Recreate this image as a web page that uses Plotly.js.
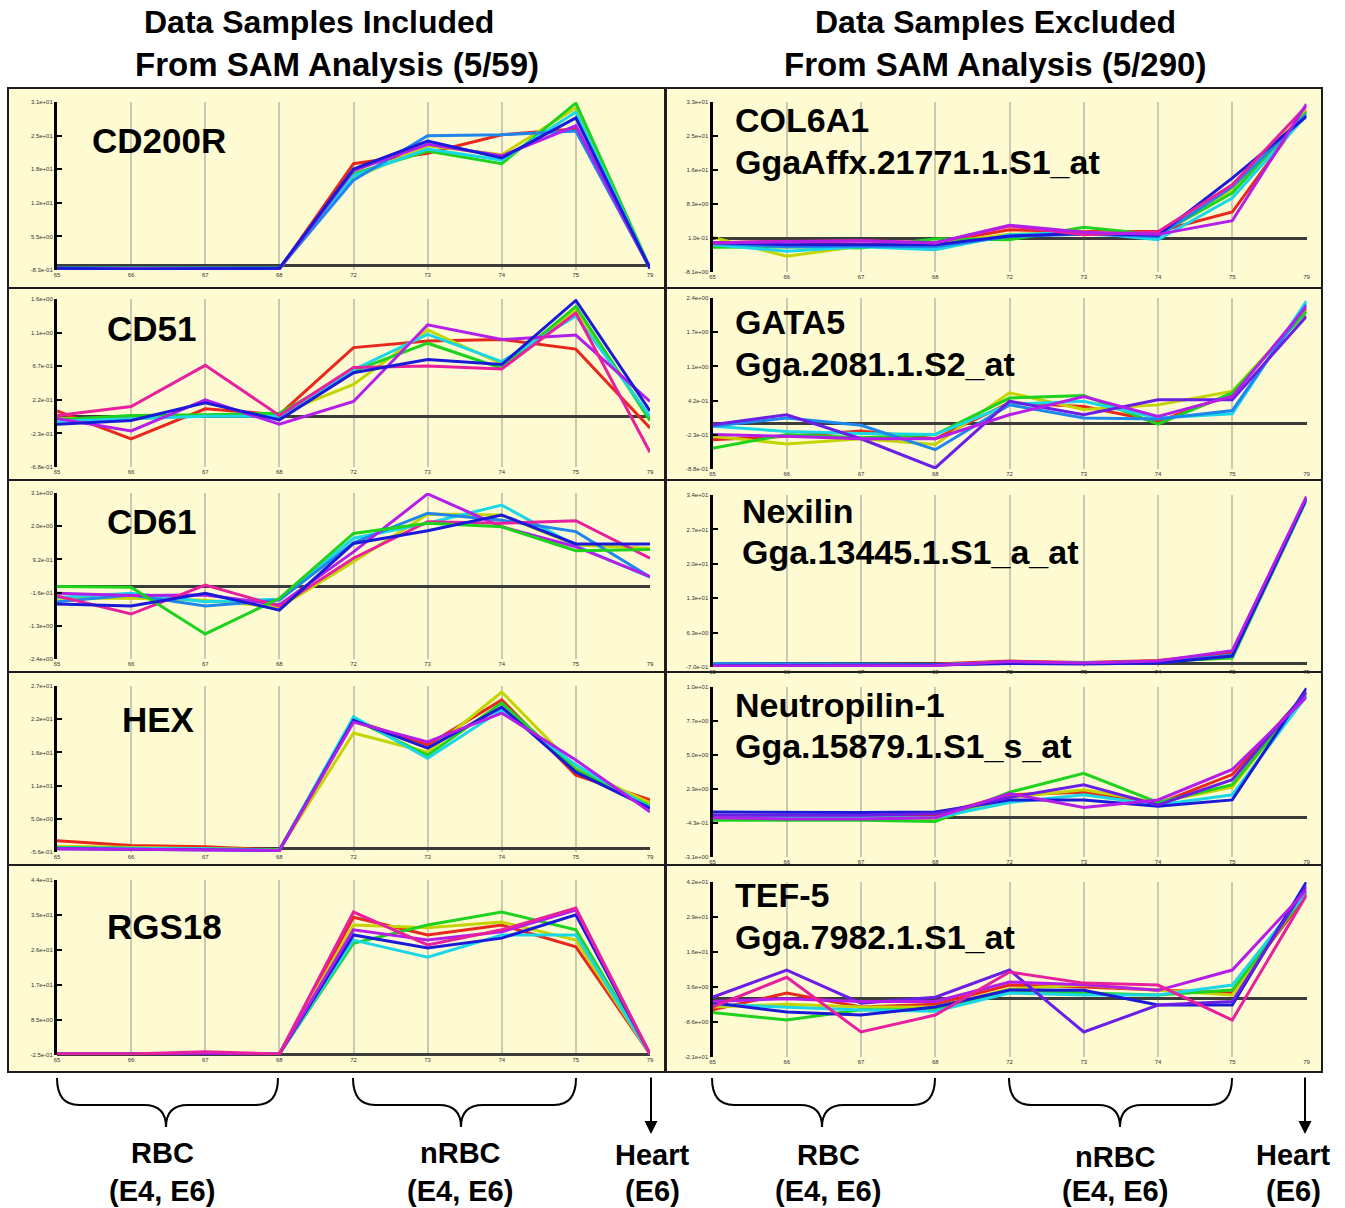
<!DOCTYPE html>
<html>
<head>
<meta charset="utf-8">
<script src="https://cdn.plot.ly/plotly-3.0.1.min.js"></script>
<style>html,body{margin:0;padding:0;background:#fff;}#chart{width:1345px;height:1208px;}</style>
</head>
<body>
<div id="chart"></div>
<script>
// ---------- DATA ----------
const timepoints = ['65','66','67','68','72','73','74','75','79'];

// Left column: included samples
const cd200r = {
  red:        [-0.6,-0.6,-0.7,-0.7,19.3,21.3,24.8,25.9,-0.5],
  yellowgreen:[-0.6,-0.6,-0.6,-0.6,16.6,22.7,21.0,29.9,-0.5],
  green:      [-0.5,-0.5,-0.5,-0.5,17.4,21.7,19.3,30.8,-0.4],
  cyan:       [-0.5,-0.5,-0.5,-0.5,17.0,22.1,20.0,29.1,-0.5],
  dodgerblue: [-0.5,-0.5,-0.5,-0.5,16.2,24.6,24.8,25.5,-0.5],
  purple:     [-0.6,-0.6,-0.6,-0.6,18.0,23.0,20.8,26.5,-0.5],
  blue:       [-0.5,-0.7,-0.6,-0.5,18.3,23.6,20.4,28.0,-0.5]
};
const cd200rRange = [-0.83, 31];
const cd200rTicks = ['-8.3e-01','5.5e+00','1.2e+01','1.8e+01','2.5e+01','3.1e+01'];

const cd51 = {
  red:        [0.08,-0.30,0.11,0.03,0.94,1.03,1.05,0.92,-0.15],
  yellowgreen:[-0.02,-0.03,0.02,0.04,0.44,1.18,0.72,1.45,0.00],
  green:      [-0.04,0.02,0.03,0.05,0.62,1.00,0.66,1.50,-0.05],
  cyan:       [-0.06,-0.02,0.01,0.01,0.64,1.12,0.75,1.37,0.01],
  purple:     [-0.02,-0.19,0.23,-0.10,0.21,1.25,1.05,1.11,0.21],
  magenta:    [0.02,0.14,0.70,0.02,0.67,0.69,0.65,1.41,-0.48],
  blue:       [-0.10,-0.05,0.19,-0.04,0.60,0.78,0.71,1.58,0.08]
};
const cd51Range = [-0.68, 1.6];
const cd51Ticks = ['-6.8e-01','-2.3e-01','2.2e-01','6.7e-01','1.1e+00','1.6e+00'];

const cd61 = {
  yellowgreen:[-0.39,-0.39,-0.45,-0.69,0.82,2.40,2.37,1.38,1.27],
  cyan:       [-0.36,-0.22,-0.50,-0.42,1.60,2.10,2.70,1.35,0.31],
  dodgerblue: [-0.50,-0.28,-0.64,-0.45,1.45,2.43,2.20,1.82,0.32],
  purple:     [-0.22,-0.30,-0.28,-0.60,1.15,3.07,1.98,1.32,0.33],
  magenta:    [-0.31,-0.91,0.05,-0.65,0.94,2.15,2.10,2.18,0.94],
  green:      [0.00,-0.02,-1.57,-0.39,1.76,2.10,1.98,1.19,1.23],
  blue:       [-0.58,-0.64,-0.22,-0.78,1.43,1.85,2.37,1.41,1.41]
};
const cd61Range = [-2.4, 3.1];
const cd61Ticks = ['-2.4e+00','-1.3e+00','-1.6e-01','9.2e-01','2.0e+00','3.1e+00'];

const hex = {
  red:        [1.3,0.5,0.3,-0.2,21.3,17.2,24.7,12.2,8.1],
  yellowgreen:[0.4,0.2,0.1,-0.2,19.2,16.0,26.0,13.4,7.6],
  green:      [0.2,0.1,0.0,-0.2,21.5,15.5,24.2,13.1,7.1],
  cyan:       [0.1,0.0,0.0,-0.3,21.9,15.0,23.0,13.9,6.8],
  blue:       [0.0,-0.1,-0.1,-0.3,21.3,16.7,23.5,12.7,6.7],
  purple:     [0.0,-0.1,-0.2,-0.3,21.0,17.7,22.5,14.7,6.1]
};
const hexRange = [-0.56, 27];
const hexTicks = ['-5.6e-01','5.0e+00','1.1e+01','1.6e+01','2.2e+01','2.7e+01'];

const rgs18 = {
  red:        [0.0,0.0,0.2,0.0,34.6,30.1,32.6,27.1,0.0],
  yellowgreen:[0.0,0.0,0.1,0.0,32.6,31.9,33.4,28.8,0.0],
  green:      [0.0,0.0,0.1,0.0,28.0,32.6,35.9,31.4,0.0],
  cyan:       [0.0,0.0,0.1,0.0,28.8,24.5,30.1,30.1,0.0],
  blue:       [0.0,0.0,0.1,0.0,30.1,26.8,29.3,35.2,0.0],
  purple:     [0.0,0.0,0.2,0.0,31.4,28.8,30.9,36.4,0.0],
  magenta:    [0.0,0.0,0.6,0.0,35.9,27.6,31.4,36.9,0.0]
};
const rgs18Range = [-0.25, 44];
const rgs18Ticks = ['-2.5e-01','8.5e+00','1.7e+01','2.6e+01','3.5e+01','4.4e+01'];

// Right column: excluded samples
const col6a1 = {
  red:        [-1.0,-0.7,-1.5,-1.0,2.1,1.7,1.7,6.4,31.0],
  yellowgreen:[0.3,-4.3,-1.8,-1.2,1.0,1.5,1.2,11.8,30.9],
  green:      [-2.1,-2.0,-2.3,-0.05,-0.3,2.7,0.9,11.0,30.5],
  cyan:       [-1.5,-3.1,-2.0,-2.7,0.9,1.5,-0.3,9.8,29.8],
  dodgerblue: [-1.2,-2.0,-1.8,-2.0,0.5,1.0,0.5,12.5,30.0],
  blue:       [-1.0,-1.5,-1.5,-1.5,0.6,1.2,0.8,14.6,29.5],
  magenta:    [-1.1,-0.7,-0.5,-1.1,3.0,0.9,1.6,13.0,32.0],
  purple:     [-1.0,-0.8,-0.6,-1.0,3.2,1.5,1.0,4.3,32.5]
};
const col6a1Range = [-8.1, 33];
const col6a1Ticks = ['-8.1e+00','1.0e-01','8.3e+00','1.6e+01','2.5e+01','3.3e+01'];

const gata5 = {
  red:        [-0.32,-0.25,-0.15,-0.30,0.39,0.32,0.03,0.55,2.20],
  yellowgreen:[-0.25,-0.40,-0.30,-0.41,0.58,0.26,0.35,0.61,2.15],
  green:      [-0.48,-0.22,-0.28,-0.22,0.48,0.53,-0.02,0.58,2.14],
  cyan:       [-0.06,-0.16,-0.20,-0.22,0.36,0.42,0.10,0.18,2.34],
  dodgerblue: [-0.06,0.10,-0.04,-0.51,0.35,0.10,0.08,0.24,2.28],
  violet:     [-0.03,0.16,-0.30,-0.86,0.42,0.16,0.45,0.45,2.05],
  purple:     [-0.22,-0.25,-0.30,-0.30,0.16,0.51,0.13,0.51,2.24]
};
const gata5Range = [-0.88, 2.4];
const gata5Ticks = ['-8.8e-01','-2.3e-01','4.2e-01','1.1e+00','1.7e+00','2.4e+00'];

const nexilin = {
  red:        [-0.3,-0.3,-0.2,-0.1,0.5,0.2,0.6,2.2,33.4],
  green:      [-0.2,-0.2,-0.3,-0.3,0.2,0.1,0.4,1.1,33.0],
  cyan:       [-0.4,-0.3,-0.2,-0.3,0.3,0.1,0.3,1.5,33.2],
  dodgerblue: [0.0,-0.1,-0.2,-0.2,0.1,0.0,0.2,1.7,33.3],
  blue:       [-0.5,-0.4,-0.4,-0.3,0.0,-0.1,0.1,1.5,33.3],
  purple:     [-0.5,-0.5,-0.5,-0.4,0.4,0.1,0.5,2.6,33.7]
};
const nexilinRange = [-0.7, 34];
const nexilinTicks = ['-7.0e-01','6.3e+00','1.3e+01','2.0e+01','2.7e+01','3.4e+01'];

const neutropilin1 = {
  red:        [0.2,0.1,0.1,0.2,1.8,2.0,1.1,3.4,9.8],
  yellowgreen:[0.0,-0.1,-0.1,-0.2,1.6,2.2,1.2,2.4,9.9],
  green:      [-0.2,-0.2,-0.2,-0.3,2.0,3.5,1.2,2.6,9.7],
  cyan:       [0.1,0.0,0.0,0.0,1.2,1.8,1.0,1.8,9.6],
  blue:       [0.45,0.4,0.4,0.45,1.4,1.4,0.9,1.4,10.2],
  violet:     [0.2,0.2,0.2,0.3,1.6,2.6,1.0,3.0,9.9],
  purple:     [0.0,-0.1,-0.1,0.0,1.9,0.8,1.4,3.8,9.5]
};
const neutropilin1Range = [-3.1, 10.3];
const neutropilin1Ticks = ['-3.1e+00','-4.3e-01','2.3e+00','5.0e+00','7.7e+00','1.0e+01'];

const tef5 = {
  red:        [-4.0,2.0,-3.0,-2.0,4.9,4.2,3.1,2.0,37.3],
  yellowgreen:[-3.0,-2.0,-3.0,-3.0,3.5,4.9,3.0,1.3,38.5],
  green:      [-5.0,-7.7,-4.0,-4.0,3.1,2.0,1.3,3.1,38.0],
  cyan:       [-2.0,-3.0,-4.1,-4.5,2.0,1.3,1.3,4.9,38.5],
  blue:       [-1.5,-4.8,-5.9,-3.0,3.1,3.0,-2.3,-2.3,42.0],
  violet:     [0.5,10.3,-1.6,0.5,10.3,-12.0,-2.3,-1.0,40.5],
  purple:     [-1.0,0.0,-1.0,-1.0,6.0,5.0,3.0,10.3,39.1],
  magenta:    [-3.0,7.7,-12.0,-5.9,9.6,5.6,4.9,-7.7,37.3]
};
const tef5Range = [-21, 42];
const tef5Ticks = ['-2.1e+01','-8.6e+00','3.6e+00','1.6e+01','2.9e+01','4.2e+01'];

const leftLabels = ['CD200R','CD51','CD61','HEX','RGS18'];
const rightLabels = [['COL6A1','GgaAffx.21771.1.S1_at'],['GATA5','Gga.2081.1.S2_at'],['Nexilin','Gga.13445.1.S1_a_at'],['Neutropilin-1','Gga.15879.1.S1_s_at'],['TEF-5','Gga.7982.1.S1_at']];
const headerLeft = ['Data Samples Included','From SAM Analysis (5/59)'];
const headerRight = ['Data Samples Excluded','From SAM Analysis (5/290)'];
const groupLabels = [['RBC','(E4, E6)'],['nRBC','(E4, E6)'],['Heart','(E6)']];

// ---------- STYLE / LAYOUT ----------
const W = 1345, H = 1208;
const px = x => x / W, py = y => 1 - y / H;
const colors = {
  red:'#e8281c', yellowgreen:'#c4d400', green:'#1ed21e', cyan:'#1ad6e6',
  dodgerblue:'#1e86ec', blue:'#1a1ad8', violet:'#6a1ee6', purple:'#b41ee8', magenta:'#e6209e'
};
const FONT = '"Liberation Sans", Arial, sans-serif';

const panels = [
  {d:cd200r, r:cd200rRange, t:cd200rTicks, col:0, yt:102, yb:270},
  {d:cd51, r:cd51Range, t:cd51Ticks, col:0, yt:299, yb:467},
  {d:cd61, r:cd61Range, t:cd61Ticks, col:0, yt:493, yb:659},
  {d:hex, r:hexRange, t:hexTicks, col:0, yt:686, yb:852},
  {d:rgs18, r:rgs18Range, t:rgs18Ticks, col:0, yt:880, yb:1055},
  {d:col6a1, r:col6a1Range, t:col6a1Ticks, col:1, yt:102, yb:272},
  {d:gata5, r:gata5Range, t:gata5Ticks, col:1, yt:298, yb:469},
  {d:nexilin, r:nexilinRange, t:nexilinTicks, col:1, yt:495, yb:667},
  {d:neutropilin1, r:neutropilin1Range, t:neutropilin1Ticks, col:1, yt:687, yb:857},
  {d:tef5, r:tef5Range, t:tef5Ticks, col:1, yt:882, yb:1057}
];
const colX = [[57, 650], [712.5, 1306.5]];

const traces = [];
const layout = {
  width: W, height: H,
  margin: {l:0, r:0, t:0, b:0},
  paper_bgcolor: '#ffffff',
  plot_bgcolor: 'rgba(0,0,0,0)',
  showlegend: false,
  font: {family: FONT, color: '#000'},
  shapes: [], annotations: []
};

panels.forEach((p, i) => {
  const k = i === 0 ? '' : String(i + 1);
  Object.keys(p.d).forEach(name => {
    traces.push({
      type:'scatter', mode:'lines', x: timepoints, y: p.d[name],
      xaxis:'x' + k, yaxis:'y' + k,
      line:{color: colors[name], width:3}, hoverinfo:'skip'
    });
  });
  const step = (p.r[1] - p.r[0]) / 5;
  const tv = p.t.map((_, j) => p.r[0] + j * step);
  layout['xaxis' + k] = {
    domain:[px(colX[p.col][0]), px(colX[p.col][1])],
    anchor:'y' + k, type:'category', range:[0, 8],
    showgrid:true, gridcolor:'#cbc9b6', gridwidth:2,
    showline:false, zeroline:false, ticks:'',
    tickfont:{size:6, color:'#333'}, automargin:false, fixedrange:true
  };
  layout['yaxis' + k] = {
    domain:[py(p.yb), py(p.yt)],
    anchor:'x' + k, range:[p.r[0], p.r[1]],
    tickmode:'array', tickvals: tv, ticktext: p.t,
    showgrid:false, zeroline:true, zerolinecolor:'#3c3c3c', zerolinewidth:3,
    showline:true, linecolor:'#000', linewidth:3,
    ticks:'inside', ticklen:5, tickwidth:2, tickcolor:'#000',
    tickfont:{size:6, color:'#333'}, automargin:false, fixedrange:true
  };
});

// cell backgrounds / borders
const rowEdges = [88, 288, 480, 672, 865, 1072];
const cellX = [[8, 665], [666, 1322]];
cellX.forEach(cx => {
  for (let r = 0; r < 5; r++) {
    layout.shapes.push({type:'rect', xref:'paper', yref:'paper', layer:'below',
      x0:px(cx[0]), x1:px(cx[1]), y0:py(rowEdges[r+1]), y1:py(rowEdges[r]),
      fillcolor:'#fefbd2', line:{color:'#1e1e1e', width:2}});
  }
});

// headers
function txt(t, x, y, size, xanchor) {
  layout.annotations.push({text:t, xref:'paper', yref:'paper', x:px(x), y:py(y),
    xanchor:xanchor || 'center', yanchor:'middle', showarrow:false,
    font:{family:FONT, size:size, color:'#000', weight:'bold'}});
}
txt('<b>' + headerLeft[0] + '</b>', 319, 22, 32);
txt('<b>' + headerLeft[1] + '</b>', 337, 64, 33);
txt('<b>' + headerRight[0] + '</b>', 995, 22, 32);
txt('<b>' + headerRight[1] + '</b>', 995, 64, 33);

// panel labels
const leftPos = [[90,140],[105,328],[105,521],[120,719],[105,927]];
leftLabels.forEach((l, i) => txt('<b>' + l + '</b>', leftPos[i][0], leftPos[i][1], 35, 'left'));
const rightPos = [[733,120,162],[733,322,364],[740,511,552],[733,705,746],[733,895,937]];
rightLabels.forEach((l, i) => {
  txt('<b>' + l[0] + '</b>', rightPos[i][0], rightPos[i][1], 34, 'left');
  txt('<b>' + l[1] + '</b>', rightPos[i][0], rightPos[i][2], 34, 'left');
});

// braces
function brace(x1, x2, c, yTop, yBot, yTip) {
  const r = 22;
  const P = (x, y) => px(x).toFixed(5) + ',' + py(y).toFixed(5);
  const path = 'M' + P(x1, yTop) + ' Q' + P(x1, yBot) + ' ' + P(x1 + r, yBot) +
    ' L' + P(c - r, yBot) + ' Q' + P(c, yBot) + ' ' + P(c, yTip) +
    ' Q' + P(c, yBot) + ' ' + P(c + r, yBot) + ' L' + P(x2 - r, yBot) +
    ' Q' + P(x2, yBot) + ' ' + P(x2, yTop);
  layout.shapes.push({type:'path', xref:'paper', yref:'paper', path:path,
    line:{color:'#000', width:2}});
}
brace(57, 278, 166, 1078, 1105, 1127);
brace(353, 576, 461, 1078, 1105, 1127);
brace(712, 935, 822, 1078, 1105, 1127);
brace(1009, 1232, 1120, 1078, 1105, 1127);

// heart arrows
[651, 1305].forEach(x => {
  layout.annotations.push({text:'', xref:'paper', yref:'paper', x:px(x), y:py(1134),
    ax:0, ay:-58, showarrow:true, arrowhead:2, arrowsize:1.3, arrowwidth:2, arrowcolor:'#000'});
});

// group labels
const groupPos = [[[162,1153],[460,1153],[652,1155]], [[828,1155],[1115,1157],[1293,1155]]];
groupPos.forEach(side => {
  side.forEach((pos, j) => {
    txt('<b>' + groupLabels[j][0] + '</b>', pos[0], pos[1], 29);
    txt('<b>' + groupLabels[j][1] + '</b>', pos[0], 1191, 29);
  });
});

Plotly.newPlot('chart', traces, layout, {staticPlot:true, displayModeBar:false});
</script>
</body>
</html>
